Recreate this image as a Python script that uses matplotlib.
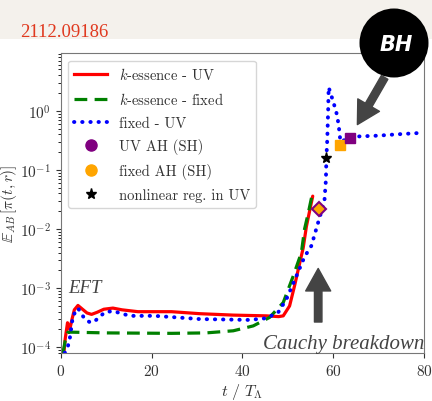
import numpy as np
import matplotlib
matplotlib.use("Agg")
import matplotlib.pyplot as plt
from matplotlib.lines import Line2D
from matplotlib.patches import Circle, Rectangle

plt.rcParams['mathtext.fontset'] = 'cm'
plt.rcParams['font.family'] = ['cmr10', 'DejaVu Serif']
plt.rcParams['axes.formatter.use_mathtext'] = True

# k-essence - UV (red, solid)
t_red = [0.7, 1.0, 1.5, 2.0, 2.5, 3.0, 3.8, 4.8, 5.8, 6.8, 8.0, 9.5, 11.5, 13.5, 17.0, 24.4, 30.6, 38.0, 45.3,
         48.0, 49.0, 50.4, 51.5, 52.5, 53.4, 54.1, 54.8, 55.5]
v_red = [8e-5, 1.4e-4, 2.6e-4, 2.0e-4, 3.0e-4, 4.3e-4, 5.1e-4, 4.4e-4, 3.8e-4, 3.6e-4, 3.9e-4, 4.4e-4, 4.6e-4,
         4.3e-4, 4.0e-4, 4.0e-4, 3.7e-4, 3.5e-4, 3.4e-4, 3.3e-4, 3.4e-4, 5.0e-4, 1.1e-3, 2.4e-3, 4.8e-3,
         1.1e-2, 2.0e-2, 3.6e-2]

# k-essence - fixed (green, dashed)
t_green = [0.5, 1.0, 1.6, 2.5, 10.0, 24.4, 32.0, 38.0, 42.4, 46.0, 49.0, 51.2, 53.0, 53.7, 54.6, 55.3]
v_green = [8e-5, 1.3e-4, 1.8e-4, 1.8e-4, 1.75e-4, 1.72e-4, 1.75e-4, 1.9e-4, 2.3e-4, 3.2e-4, 5.7e-4, 1.6e-3,
           4.0e-3, 1.0e-2, 2.0e-2, 3.6e-2]

# fixed - UV (blue, dotted)
t_blue = [0.9, 1.6, 2.0, 2.7, 3.8, 5.3, 6.6, 7.8, 9.7, 11.5, 15.2, 20.7, 30.6, 41.6, 45.3, 47.9, 49.7, 51.9,
          53.7, 55.2, 56.7, 57.8, 58.1, 58.4, 58.5, 58.7, 58.9, 59.0, 59.6, 60.3, 60.9, 61.3, 61.6, 62.5,
          63.6, 66.0, 70.0, 74.0, 78.7]
v_blue = [8e-5, 1.05e-4, 1.4e-4, 3.4e-4, 4.6e-4, 3.0e-4, 2.6e-4, 2.9e-4, 3.9e-4, 4.1e-4, 3.4e-4, 3.4e-4,
          3.0e-4, 2.9e-4, 3.1e-4, 3.9e-4, 6.5e-4, 1.6e-3, 3.4e-3, 5.2e-3, 1.3e-2, 2.5e-2, 3.2e-2, 6.8e-2,
          0.16, 0.33, 1.07, 2.5, 1.8, 1.2, 0.82, 0.49, 0.3, 0.32, 0.36, 0.37, 0.38, 0.40, 0.42]

# markers
t_diamond, v_diamond = 56.9, 0.022
t_star, v_star = 58.5, 0.16
t_sq_fixed, v_sq_fixed = 61.6, 0.26
t_sq_uv, v_sq_uv = 63.6, 0.35

dots = (0, (0.1, 2.0))
dashes = (0, (4, 2.3))

fig = plt.figure(figsize=(4.32, 4.02), dpi=100, facecolor='white')
ax = fig.add_axes([0.1405, 0.1194, 0.841, 0.7456])

ax.plot(t_red, v_red, color='red', lw=2.3, solid_capstyle='round')
ax.plot(t_green, v_green, color='green', lw=2.3, ls=dashes)
ax.plot(t_blue, v_blue, color='blue', lw=2.8, ls=dots, dash_capstyle='round')

ax.plot([t_diamond], [v_diamond], marker='D', ms=7, mfc='orange', mec='purple', mew=1.5, ls='none', zorder=5)
ax.plot([t_star], [v_star], marker='*', ms=8, color='black', ls='none', zorder=5)
ax.plot([t_sq_fixed], [v_sq_fixed], marker='s', ms=7.5, color='orange', ls='none', zorder=5)
ax.plot([t_sq_uv], [v_sq_uv], marker='s', ms=7.5, color='purple', ls='none', zorder=5)

ax.set_yscale('log')
ax.set_xlim(0, 80)
ax.set_ylim(8e-5, 9.4)
ax.set_xticks([0, 20, 40, 60, 80])
ax.tick_params(labelsize=11, colors='#333333')
for s in ax.spines.values():
    s.set_color('#777777')

ax.set_xlabel(r'$t\ /\ T_\Lambda$', fontsize=11.5, color='#333333', labelpad=2)
ax.set_ylabel(r'$\mathbb{E}_{AB}\,[\pi(t,r)]$', fontsize=11, color='#333333')
ax.yaxis.set_label_coords(-0.114, 0.5)

handles = [
    Line2D([], [], color='red', lw=2.3),
    Line2D([], [], color='green', lw=2.3, ls=dashes),
    Line2D([], [], color='blue', lw=2.8, ls=dots, dash_capstyle='round'),
    Line2D([], [], marker='o', ms=8, color='purple', ls='none'),
    Line2D([], [], marker='o', ms=8, color='orange', ls='none'),
    Line2D([], [], marker='*', ms=8, color='black', ls='none'),
]
labels = [r'$k$-essence - UV', r'$k$-essence - fixed', 'fixed - UV',
          'UV AH (SH)', 'fixed AH (SH)', 'nonlinear reg. in UV']
leg = ax.legend(handles, labels, loc='upper left', fontsize=10.5, labelcolor='#333333',
                handlelength=2.3, labelspacing=0.6)

# annotations
ax.text(1.6, 8.5e-4, 'EFT', fontsize=13.5, style='italic', color='#444444',
        family='Liberation Serif', va='baseline')
ax.text(44.5, 9.7e-5, 'Cauchy breakdown', fontsize=15, style='italic', color='#444444',
        family='Liberation Serif', va='baseline')
ax.annotate('', xy=(56.7, 2.4e-3), xytext=(56.7, 2.4e-4),
            arrowprops=dict(arrowstyle='simple,head_length=0.9,head_width=1.0,tail_width=0.3',
                            color='#444444', mutation_scale=18))
ax.annotate('', xy=(356, 274), xycoords='figure pixels', xytext=(386, 326), textcoords='figure pixels',
            arrowprops=dict(arrowstyle='simple,head_length=0.9,head_width=1.0,tail_width=0.3',
                            color='#444444', mutation_scale=18), annotation_clip=False)

# header strip, arXiv number and BH badge
fig.add_artist(Rectangle((0, 3.62), 4.32, 0.40, transform=fig.dpi_scale_trans,
                         facecolor='#f4f1ec', edgecolor='none', zorder=-1))
fig.text(20 / 432, 1 - 37 / 402, '2112.09186', fontsize=13.5, color='#e0391f',
         family='Liberation Serif')
fig.add_artist(Circle((3.94, 3.58), 0.345, transform=fig.dpi_scale_trans,
                      facecolor='black', edgecolor='none', zorder=3))
fig.text(396 / 432, 1 - 45 / 402, 'BH', fontsize=15, color='white', weight='bold', style='italic',
         family='DejaVu Sans', ha='center', va='center', zorder=4)

fig.savefig('out.png', dpi=100)
